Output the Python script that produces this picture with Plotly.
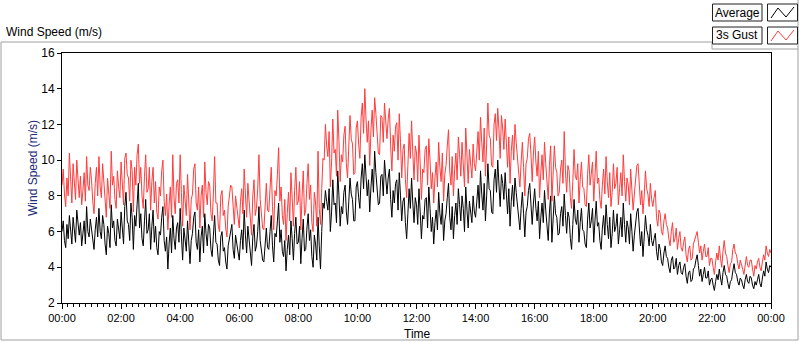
import pandas as pd
import plotly.graph_objects as go

# 2.5-minute samples, 00:00 .. 24:00
times = pd.date_range("2024-01-01 00:00", "2024-01-02 00:00", freq="150s")

average = [
    6.0, 6.6, 5.5, 5.1, 6.4, 5.6, 6.9, 6.2, 5.3, 6.8, 6.1, 5.4, 7.2, 6.3, 5.8, 6.5, 5.2, 5.9, 6.6, 5.3, 7.4, 6.0, 5.7, 6.7,
    6.2, 5.4, 5.0, 6.1, 6.8, 5.7, 7.3, 6.0, 5.6, 6.9, 6.4, 5.3, 4.7, 6.3, 5.9, 5.1, 7.5, 6.2, 6.6, 5.5, 5.2, 6.7, 6.0, 5.6,
    7.1, 6.0, 5.3, 7.4, 8.2, 6.6, 6.4, 5.5, 7.6, 6.8, 5.0, 6.9, 6.3, 7.5, 8.7, 6.2, 7.0, 5.6, 5.2, 6.6, 7.8, 5.9, 6.1, 7.0,
    5.0, 6.3, 7.2, 5.4, 6.3, 5.1, 4.7, 6.0, 5.8, 6.8, 7.4, 5.5, 4.9, 5.7, 3.9, 5.3, 6.2, 4.8, 6.9, 5.6, 5.0, 6.2, 6.5, 5.4,
    7.3, 5.8, 4.4, 6.2, 5.6, 4.9, 6.6, 5.3, 4.2, 5.5, 5.9, 6.8, 7.1, 5.4, 5.0, 6.1, 4.3, 5.7, 6.3, 4.8, 7.0, 5.9, 5.2, 6.4,
    6.2, 5.0, 4.6, 5.8, 6.9, 5.4, 5.3, 4.4, 4.1, 5.7, 6.0, 4.9, 5.1, 4.3, 3.9, 5.2, 5.6, 6.2, 6.4, 5.0, 4.5, 5.8, 5.3, 4.6,
    4.4, 5.5, 6.1, 5.0, 7.2, 5.8, 4.8, 6.3, 5.6, 4.5, 4.1, 5.7, 6.4, 4.9, 5.2, 6.0, 7.4, 5.5, 5.0, 4.4, 4.3, 5.6, 6.2, 5.1,
    5.0, 6.0, 6.9, 5.2, 4.3, 5.9, 5.7, 6.6, 7.6, 5.4, 6.1, 4.9, 4.6, 5.5, 3.8, 5.0, 5.8, 4.7, 6.6, 5.6, 4.4, 5.9, 6.8, 5.3,
    5.4, 6.3, 4.2, 5.6, 6.7, 4.9, 5.0, 6.2, 7.0, 5.5, 6.1, 4.6, 4.0, 5.8, 5.3, 4.4, 6.8, 5.2, 3.9, 6.0, 7.6, 7.3, 8.3, 7.7,
    7.2, 8.4, 6.0, 7.1, 8.9, 7.5, 7.6, 6.5, 9.4, 8.0, 6.3, 7.4, 7.0, 8.2, 8.6, 7.1, 6.4, 7.7, 9.0, 8.1, 7.8, 6.6, 6.6, 8.5,
    8.8, 7.9, 7.3, 9.0, 9.8, 8.4, 10.3, 9.1, 8.0, 8.9, 7.1, 8.5, 9.5, 8.2, 10.5, 9.3, 8.6, 7.5, 7.6, 9.1, 9.2, 8.0, 10.0, 8.7,
    8.1, 9.0, 9.5, 7.8, 6.8, 8.3, 7.6, 8.7, 8.9, 7.2, 9.3, 8.0, 6.6, 7.7, 7.9, 6.5, 5.6, 7.0, 8.4, 7.3, 9.0, 7.6, 6.5, 7.9,
    7.5, 6.4, 8.4, 7.1, 5.6, 6.9, 6.7, 7.8, 7.9, 6.2, 8.5, 7.3, 6.0, 6.8, 5.3, 6.5, 7.2, 6.1, 8.2, 7.0, 6.4, 7.6, 5.5, 6.6,
    7.0, 7.9, 8.7, 6.8, 6.1, 7.4, 5.6, 6.9, 7.6, 6.4, 8.4, 7.5, 6.6, 8.0, 7.3, 6.0, 8.5, 7.2, 6.2, 7.7, 7.0, 6.5, 8.0, 7.1,
    6.8, 7.9, 8.6, 7.3, 9.4, 8.1, 7.2, 8.7, 6.6, 8.0, 9.8, 8.4, 8.3, 7.1, 7.0, 8.9, 9.5, 8.2, 10.0, 8.6, 7.4, 9.2, 8.7, 7.8,
    9.3, 8.1, 7.0, 8.4, 6.3, 7.7, 8.6, 7.4, 9.0, 8.2, 7.5, 6.6, 6.1, 7.3, 8.2, 7.0, 5.7, 7.1, 7.4, 8.3, 8.7, 7.5, 6.4, 7.6,
    8.4, 7.3, 6.6, 7.7, 5.6, 6.8, 7.6, 6.5, 8.3, 7.2, 6.2, 5.5, 7.1, 8.0, 5.4, 6.6, 8.0, 7.0, 6.8, 5.8, 5.9, 7.0, 7.4, 6.3,
    8.1, 6.9, 5.9, 7.1, 6.8, 5.6, 5.0, 6.4, 7.8, 6.7, 6.4, 7.2, 5.4, 6.5, 7.3, 6.1, 6.0, 5.3, 5.1, 6.7, 7.6, 6.2, 6.6, 7.3,
    5.4, 6.6, 7.7, 6.3, 6.5, 5.5, 5.0, 6.2, 6.9, 5.8, 7.5, 6.4, 5.6, 6.8, 5.1, 5.9, 7.2, 6.0, 6.3, 7.0, 5.3, 6.1, 6.8, 5.7,
    7.6, 6.4, 5.4, 6.6, 6.2, 5.3, 7.0, 6.0, 4.9, 5.8, 6.5, 7.1, 7.3, 6.2, 5.2, 6.0, 4.6, 5.7, 6.9, 6.1, 5.8, 5.2, 6.4, 5.5,
    5.2, 5.6, 5.9, 4.9, 4.4, 5.3, 5.0, 4.3, 4.1, 4.8, 5.2, 4.6, 4.5, 4.0, 3.7, 4.4, 4.6, 3.9, 4.0, 4.5, 3.6, 4.1, 4.3, 3.7,
    3.6, 4.0, 4.2, 3.5, 3.1, 3.7, 3.8, 3.2, 3.3, 3.9, 4.0, 4.4, 4.7, 4.1, 3.5, 3.9, 3.2, 3.6, 4.0, 3.4, 3.4, 3.8, 3.0, 3.3,
    3.4, 3.0, 2.7, 3.2, 3.6, 3.3, 3.9, 3.4, 3.0, 3.7, 4.1, 3.6, 3.5, 3.1, 2.8, 3.2, 3.3, 3.8, 4.2, 3.7, 3.6, 3.2, 3.0, 3.4,
    3.3, 3.0, 2.8, 3.3, 3.6, 3.2, 3.1, 3.5, 3.4, 3.0, 2.8, 3.2, 3.0, 3.3, 3.6, 3.1, 2.9, 3.4, 3.8, 3.5, 4.3, 3.9, 3.7, 4.1,
    4.0,
]

gust = [
    8.6, 9.5, 8.1, 7.4, 9.0, 8.0, 10.4, 8.9, 7.6, 9.8, 8.4, 7.8, 10.0, 8.7, 7.9, 9.1, 7.5, 8.3, 9.3, 7.7, 10.2, 8.6, 8.3, 9.6,
    8.9, 7.7, 7.0, 8.7, 9.6, 8.0, 10.2, 8.5, 7.9, 9.8, 8.8, 7.4, 6.8, 9.0, 8.2, 7.3, 10.5, 8.6, 9.1, 7.8, 7.3, 9.4, 8.5, 7.9,
    9.9, 8.3, 7.5, 10.1, 10.4, 9.2, 9.0, 7.7, 10.0, 9.4, 7.1, 9.6, 8.6, 10.3, 10.9, 8.7, 9.6, 8.0, 7.3, 9.1, 10.3, 8.2, 8.4, 9.6,
    7.2, 8.8, 9.6, 7.6, 8.8, 7.1, 6.7, 8.5, 8.0, 9.4, 10.0, 7.7, 6.9, 8.1, 6.1, 7.5, 8.5, 6.8, 10.3, 7.9, 7.0, 8.7, 8.9, 7.6,
    10.3, 8.2, 6.3, 8.6, 7.9, 6.9, 9.2, 7.5, 6.1, 7.8, 8.1, 9.5, 9.8, 7.6, 7.2, 8.5, 6.2, 8.0, 8.6, 6.8, 9.9, 8.2, 7.5, 8.8,
    8.6, 7.0, 6.6, 8.1, 10.2, 7.6, 7.6, 6.3, 6.0, 8.0, 8.3, 6.9, 7.2, 6.2, 5.7, 7.4, 7.9, 8.6, 8.5, 7.0, 6.4, 8.0, 7.3, 6.5,
    6.2, 7.7, 8.4, 7.0, 9.5, 8.1, 6.8, 8.7, 7.8, 6.4, 5.8, 8.0, 8.9, 6.9, 7.3, 8.4, 10.3, 7.8, 7.1, 6.2, 6.1, 7.9, 8.7, 7.2,
    7.1, 8.4, 9.6, 7.4, 6.1, 8.3, 8.0, 9.2, 10.7, 7.7, 8.5, 6.9, 6.4, 7.8, 5.5, 7.0, 8.2, 6.6, 9.3, 7.9, 6.3, 8.3, 9.6, 7.5,
    7.7, 8.8, 6.1, 7.9, 9.4, 6.9, 7.2, 8.7, 9.8, 7.8, 8.6, 6.5, 6.0, 8.2, 7.6, 6.3, 10.5, 7.3, 6.4, 8.4, 10.1, 10.0, 12.0, 10.8,
    10.2, 11.6, 8.5, 9.9, 12.3, 10.4, 10.6, 9.1, 12.8, 11.1, 8.8, 10.3, 9.9, 11.4, 11.9, 9.8, 9.0, 10.8, 12.5, 11.2, 10.9, 9.2, 9.3, 11.8,
    12.2, 10.9, 10.1, 12.4, 13.2, 11.5, 14.0, 12.3, 11.0, 12.2, 9.7, 11.7, 12.8, 11.3, 13.5, 12.6, 11.6, 10.4, 10.3, 12.5, 12.4, 11.0, 13.2, 11.9,
    11.2, 12.3, 12.9, 10.8, 9.4, 11.4, 10.5, 11.9, 12.1, 10.0, 12.6, 11.0, 9.0, 10.6, 10.9, 8.9, 7.9, 9.7, 11.5, 10.1, 12.2, 10.4, 8.9, 10.8,
    10.4, 8.8, 11.4, 9.8, 7.8, 9.5, 9.3, 10.6, 10.8, 8.6, 11.2, 10.0, 8.4, 9.3, 7.6, 9.0, 9.9, 8.5, 11.0, 9.6, 8.8, 10.4, 7.7, 9.2,
    9.7, 10.8, 11.7, 9.4, 8.6, 10.2, 8.0, 9.5, 10.4, 8.9, 11.3, 10.3, 9.1, 11.0, 10.0, 8.5, 11.8, 9.9, 8.7, 10.6, 9.6, 9.0, 10.9, 9.8,
    9.4, 10.8, 11.6, 10.0, 12.4, 11.0, 9.9, 11.8, 9.1, 10.9, 13.2, 11.4, 11.2, 9.7, 9.6, 12.0, 12.6, 11.1, 12.9, 11.7, 10.1, 12.5, 11.8, 10.6,
    12.3, 11.0, 9.6, 11.3, 8.7, 10.5, 11.4, 10.0, 12.0, 11.0, 10.2, 9.0, 8.5, 9.9, 11.0, 9.6, 8.0, 9.8, 10.1, 11.2, 11.5, 10.3, 8.8, 10.4,
    11.3, 9.9, 9.1, 10.5, 7.9, 9.3, 10.3, 8.9, 11.0, 9.8, 8.6, 7.8, 9.7, 10.8, 7.7, 9.0, 10.8, 9.6, 9.3, 8.0, 8.2, 9.5, 10.0, 8.7,
    11.6, 9.4, 8.2, 9.7, 9.4, 7.9, 7.3, 8.8, 10.6, 9.1, 8.9, 9.8, 7.6, 8.9, 9.9, 8.5, 8.4, 7.5, 7.4, 9.2, 10.3, 8.6, 9.1, 9.9,
    7.7, 9.1, 10.5, 8.7, 9.0, 7.8, 7.3, 8.6, 9.5, 8.1, 10.2, 8.8, 7.9, 9.3, 7.4, 8.2, 9.8, 8.4, 8.7, 9.6, 7.5, 8.4, 9.3, 8.0,
    10.3, 8.8, 7.7, 9.0, 8.6, 7.5, 9.5, 8.3, 7.2, 8.1, 8.9, 9.7, 9.8, 8.5, 7.5, 8.3, 7.0, 8.0, 9.4, 8.4, 8.1, 7.4, 8.7, 7.8,
    7.4, 7.9, 8.3, 6.8, 6.3, 7.2, 7.0, 6.0, 5.8, 6.6, 7.0, 6.4, 6.2, 5.6, 5.2, 6.0, 6.5, 5.4, 5.6, 6.2, 5.0, 5.6, 6.0, 5.1,
    4.9, 5.4, 5.7, 4.7, 4.3, 5.0, 5.2, 4.4, 4.5, 5.3, 5.5, 5.8, 6.0, 5.4, 4.8, 5.2, 4.4, 4.9, 5.3, 4.6, 4.6, 5.1, 4.1, 4.5,
    4.5, 4.0, 3.6, 4.3, 4.8, 4.4, 5.2, 4.5, 4.0, 4.9, 5.5, 4.8, 4.6, 4.1, 3.7, 4.2, 4.3, 5.0, 5.3, 4.8, 4.7, 4.2, 3.9, 4.4,
    4.2, 3.9, 3.6, 4.2, 4.6, 4.1, 4.0, 4.4, 4.4, 3.9, 3.5, 4.1, 3.9, 4.3, 4.5, 4.0, 3.8, 4.3, 4.7, 4.4, 5.2, 4.8, 4.6, 5.0,
    4.8,
]

series_names = ["Average", "3s Gust"]
series_colors = ["#000000", "#ff3c3c"]
y_ticks = [2, 4, 6, 8, 10, 12, 14, 16]

W, H = 800, 342
L, R, T, B = 62, 771, 53, 303
FONT = "Liberation Sans, Arial, sans-serif"
GRAY = "#a0a0a0"


def px(x):
    return (x - L) / (R - L)


def py(y):
    return (B - y) / (B - T)


fig = go.Figure()
for name, vals, col in zip(series_names, [average, gust], series_colors):
    n = min(len(times), len(vals))
    fig.add_trace(go.Scatter(x=times[:n], y=vals[:n], mode="lines", name=name,
                             line=dict(color=col, width=1), showlegend=False))

shapes = []
# outer gray frame
for x0, y0, x1, y1 in [(1, 42, 712, 42), (1, 42, 1, 340), (1, 340, 798, 340),
                       (798, 0, 798, 340), (712, 42, 712, 49), (712, 49, 798, 49)]:
    shapes.append(dict(type="line", xref="paper", yref="paper",
                       x0=px(x0), y0=py(y0), x1=px(x1), y1=py(y1),
                       line=dict(color=GRAY, width=1)))

annotations = []
# legend boxes
leg_rows = [(4, 21), (27, 44)]
for (ya, yb), name, col in zip(leg_rows, series_names, series_colors):
    shapes.append(dict(type="rect", xref="paper", yref="paper",
                       x0=px(712.5), x1=px(762), y0=py(ya), y1=py(yb),
                       line=dict(color="#202020", width=1), fillcolor="#fbfbfb"))
    shapes.append(dict(type="rect", xref="paper", yref="paper",
                       x0=px(767.5), x1=px(797.5), y0=py(ya), y1=py(yb),
                       line=dict(color="#202020", width=1), fillcolor="#ffffff"))
    pts = [(771, yb - 3), (778, ya + 4), (786, yb - 4), (794, ya + 3)]
    path = "M " + " L ".join(f"{px(a):.5f},{py(b):.5f}" for a, b in pts)
    shapes.append(dict(type="path", xref="paper", yref="paper", path=path,
                       line=dict(color=col, width=1)))
    annotations.append(dict(text=name, xref="paper", yref="paper",
                            x=px(737), y=py((ya + yb) / 2), showarrow=False,
                            xanchor="center", yanchor="middle",
                            font=dict(family=FONT, size=12, color="#000000")))

annotations += [
    dict(text="Wind Speed (m/s)", xref="paper", yref="paper", x=px(4), y=py(32),
         xanchor="left", yanchor="middle", showarrow=False,
         font=dict(family=FONT, size=12, color="#000000")),
    dict(text="Wind Speed (m/s)", xref="paper", yref="paper", x=px(33), y=py(168),
         xanchor="center", yanchor="middle", textangle=-90, showarrow=False,
         font=dict(family=FONT, size=12, color="#1c2c78")),
    dict(text="Time", xref="paper", yref="paper", x=px(417), y=py(334),
         xanchor="center", yanchor="middle", showarrow=False,
         font=dict(family=FONT, size=12, color="#000000")),
]

fig.update_layout(
    width=W, height=H,
    margin=dict(l=L, r=W - R, t=T, b=H - B, pad=0),
    paper_bgcolor="#ffffff", plot_bgcolor="#ffffff",
    showlegend=False,
    shapes=shapes, annotations=annotations,
    xaxis=dict(type="date", range=[times[0], times[-1]],
               tickformat="%H:%M", dtick=2 * 3600 * 1000,
               tick0="2024-01-01 00:00",
               ticks="outside", ticklen=5, tickcolor="#000000",
               minor=dict(dtick=12 * 60 * 1000, ticks="outside", ticklen=3,
                          tickcolor="#000000", showgrid=False),
               showgrid=False, zeroline=False,
               showline=True, linecolor="#000000", linewidth=1, mirror=True,
               tickfont=dict(family=FONT, size=11, color="#000000")),
    yaxis=dict(range=[2, 16], tickvals=y_ticks, ticks="outside", ticklen=4,
               tickcolor="#000000", showgrid=False, zeroline=False,
               showline=True, linecolor="#000000", linewidth=1, mirror=True,
               tickfont=dict(family=FONT, size=12, color="#000000")),
)

fig.write_html("out.html",
               config={"displayModeBar": False},
               post_script="document.body.style.margin='0';"
                           "document.body.style.overflow='hidden';")
